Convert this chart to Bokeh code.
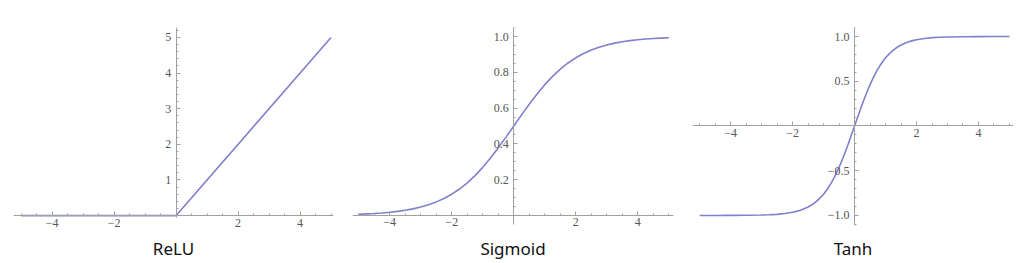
from bokeh.plotting import figure
from bokeh.layouts import row
from bokeh.models import FixedTicker, Range1d, LinearAxis
from bokeh.embed import file_html
from bokeh.resources import INLINE

# ---- data ----
titles = ["ReLU", "Sigmoid", "Tanh"]

relu_x = [-5, 0, 5]
relu_y = [0, 0, 5]

sig_x = [-5, -4.75, -4.5, -4.25, -4, -3.75, -3.5, -3.25, -3, -2.75, -2.5, -2.25, -2, -1.75, -1.5, -1.25,
         -1, -0.75, -0.5, -0.25, 0, 0.25, 0.5, 0.75, 1, 1.25, 1.5, 1.75, 2, 2.25, 2.5, 2.75, 3, 3.25,
         3.5, 3.75, 4, 4.25, 4.5, 4.75, 5]
sig_y = [0.007, 0.009, 0.011, 0.014, 0.018, 0.023, 0.029, 0.037, 0.047, 0.060, 0.076, 0.095, 0.119, 0.148,
         0.182, 0.223, 0.269, 0.321, 0.378, 0.438, 0.500, 0.562, 0.622, 0.679, 0.731, 0.777, 0.818, 0.852,
         0.881, 0.905, 0.924, 0.940, 0.953, 0.963, 0.971, 0.977, 0.982, 0.986, 0.989, 0.991, 0.993]

tanh_x = [-5, -4.5, -4, -3.5, -3, -2.75, -2.5, -2.25, -2, -1.875, -1.75, -1.625, -1.5, -1.375, -1.25, -1.125,
          -1, -0.875, -0.75, -0.625, -0.5, -0.375, -0.25, -0.125, 0, 0.125, 0.25, 0.375, 0.5, 0.625, 0.75,
          0.875, 1, 1.125, 1.25, 1.375, 1.5, 1.625, 1.75, 1.875, 2, 2.25, 2.5, 2.75, 3, 3.5, 4, 4.5, 5]
tanh_y = [-1.0, -1.0, -0.999, -0.998, -0.995, -0.992, -0.987, -0.978, -0.964, -0.954, -0.941, -0.925, -0.905,
          -0.880, -0.848, -0.809, -0.762, -0.704, -0.635, -0.555, -0.462, -0.358, -0.245, -0.124, 0.0,
          0.124, 0.245, 0.358, 0.462, 0.555, 0.635, 0.704, 0.762, 0.809, 0.848, 0.880, 0.905, 0.925, 0.941,
          0.954, 0.964, 0.978, 0.987, 0.992, 0.995, 0.998, 0.999, 1.0, 1.0]

x_ticks = [-4, -2, 2, 4]
x_tick_labels = ["\u22124", "\u22122", "2", "4"]
relu_y_ticks = [1, 2, 3, 4, 5]
relu_y_labels = ["1", "2", "3", "4", "5"]
sig_y_ticks = [0.2, 0.4, 0.6, 0.8, 1.0]
sig_y_labels = ["0.2", "0.4", "0.6", "0.8", "1.0"]
tanh_y_ticks = [-1.0, -0.5, 0.5, 1.0]
tanh_y_labels = ["\u22121.0", "\u22120.5", "0.5", "1.0"]

LINE = "#8080cc"
AXIS = "#a0a0a0"
LABEL = "#555555"
TICK_FONT = "'Liberation Serif'"


def steps(lo, hi, step):
    n = int(round((hi - lo) / step))
    return [round(lo + i * step, 4) for i in range(n + 1)]


def panel(w, xr, yr, ybounds, borders, xs, ys, yt, yl, y_minor, title):
    left, right, top, bottom = borders
    p = figure(width=w, height=263, output_backend="svg", toolbar_location=None,
               x_range=Range1d(*xr), y_range=Range1d(*yr),
               min_border_left=left, min_border_right=right,
               min_border_top=top, min_border_bottom=bottom)
    p.outline_line_color = None
    p.grid.visible = False
    p.background_fill_color = "white"
    p.border_fill_color = "white"

    p.line(xs, ys, color=LINE, line_width=1.6)

    xa = p.xaxis[0]
    xa.fixed_location = 0
    xa.ticker = FixedTicker(ticks=x_ticks, minor_ticks=steps(-5, 5, 0.5))
    xa.major_label_overrides = {float(t): s for t, s in zip(x_ticks, x_tick_labels)}
    ya = p.yaxis[0]
    ya.fixed_location = 0
    ya.bounds = ybounds
    ya.ticker = FixedTicker(ticks=yt, minor_ticks=y_minor)
    ya.major_label_overrides = {float(t): s for t, s in zip(yt, yl)}
    for a in (xa, ya):
        a.axis_line_color = AXIS
        a.axis_line_width = 1
        a.major_tick_line_color = AXIS
        a.minor_tick_line_color = AXIS
        a.major_tick_in = 4
        a.major_tick_out = 0
        a.minor_tick_in = 2
        a.minor_tick_out = 0
        a.major_label_text_font = TICK_FONT
        a.major_label_text_font_size = "12px"
        a.major_label_text_color = LABEL
    xa.major_label_standoff = 3
    ya.major_label_standoff = 5

    ta = LinearAxis(ticker=FixedTicker(ticks=[]), axis_line_color=None,
                    major_tick_line_color=None, minor_tick_line_color=None,
                    major_tick_out=0, major_tick_in=0, major_label_standoff=0,
                    axis_label=title, axis_label_standoff=4,
                    axis_label_text_font="Noto Sans", axis_label_text_font_size="17px",
                    axis_label_text_font_style="normal", axis_label_text_color="#111111")
    p.add_layout(ta, "below")
    return p


p1 = panel(340, (-5.25, 5.08), (-0.475, 5.279), (-0.06, 5.279), (13, 7, 26, 31),
           relu_x, relu_y, relu_y_ticks, relu_y_labels, steps(0, 5.2, 0.2), titles[0])
p2 = panel(340, (-5.2, 5.15), (-0.095, 1.0503), (-0.05, 1.0503), (12, 7, 27, 31),
           sig_x, sig_y, sig_y_ticks, sig_y_labels, steps(0, 1.05, 0.05), titles[1])
p3 = panel(344, (-5.23, 5.13), (-1.19, 1.1006), (-1.11, 1.1006), (12, 11, 27, 31),
           tanh_x, tanh_y, tanh_y_ticks, tanh_y_labels, steps(-1.1, 1.1, 0.1), titles[2])

layout = row(p1, p2, p3, spacing=0)
open("out.html", "w").write(file_html(layout, INLINE))
